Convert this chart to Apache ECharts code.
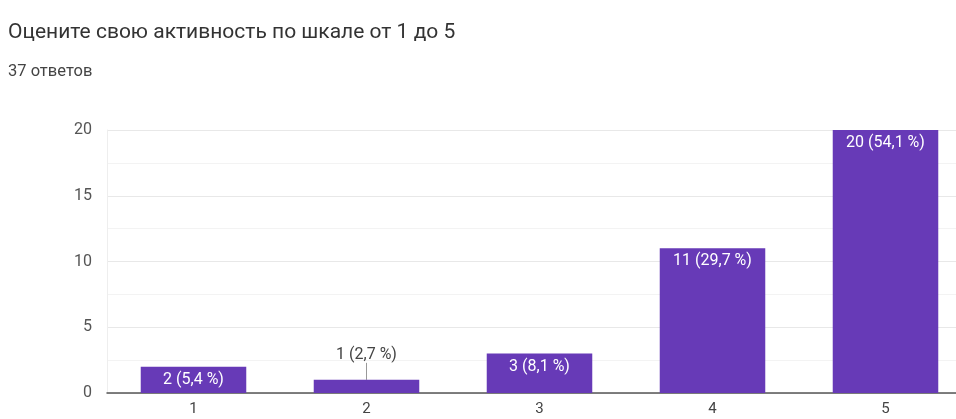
<!DOCTYPE html>
<html>
<head>
<meta charset="utf-8">
<script src="https://cdn.jsdelivr.net/npm/echarts@6/dist/echarts.min.js"></script>
<style>
  html, body { margin: 0; padding: 0; background: #fff; }
  #chart { width: 956px; height: 419px; }
</style>
</head>
<body>
<div id="chart"></div>
<script>
// Survey answers: self-rated activity on a 1..5 scale
const categories = ['1', '2', '3', '4', '5'];
const counts = [2, 1, 3, 11, 20];
const yTicks = [0, 5, 10, 15, 20];

const titleText = 'Оцените свою активность по шкале от 1 до 5';
const total = counts.reduce((a, b) => a + b, 0);
const subtitleText = total + ' ответов';

function pctLabel(v) {
  const p = (v / total * 100).toFixed(1).replace('.', ',');
  return v + ' (' + p + ' %)';
}

// Bars too short to hold their label get it above, with a leader line
const outsideIdx = counts.map((v, i) => v < 2 ? i : -1).filter(i => i >= 0);

const chart = echarts.init(document.getElementById('chart'));
chart.setOption({
  animation: false,
  textStyle: { fontFamily: 'Roboto' },
  title: {
    text: titleText,
    subtext: subtitleText,
    left: 3,
    top: 17,
    itemGap: 20,
    textStyle: { fontFamily: 'Roboto', fontSize: 21, fontWeight: 'normal', color: '#333' },
    subtextStyle: { fontFamily: 'Roboto', fontSize: 16.5, color: '#444' }
  },
  // the plot runs past the right edge of the canvas
  grid: { left: 107, width: 865, top: 130, bottom: 26, outerBoundsMode: 'none', containLabel: false },
  xAxis: {
    type: 'category',
    data: categories,
    axisLine: { show: true, lineStyle: { color: '#555', width: 1.5 } },
    axisTick: { show: false },
    axisLabel: { color: '#444', fontSize: 15, margin: 9 }
  },
  yAxis: {
    type: 'value',
    min: yTicks[0],
    max: yTicks[yTicks.length - 1],
    interval: 5,
    axisLine: { show: true, lineStyle: { color: '#eeeeee' } },
    axisTick: { show: false },
    axisLabel: { color: '#555', fontSize: 16, margin: 15 },
    splitLine: { lineStyle: { color: '#e8e8e8' } },
    minorTick: { show: false, splitNumber: 2 },
    minorSplitLine: { show: true, lineStyle: { color: '#f3f3f3' } }
  },
  series: [{
    type: 'bar',
    barWidth: '61%',
    itemStyle: { color: '#673ab7' },
    data: counts.map((v, i) => {
      if (outsideIdx.includes(i)) {
        return {
          value: v,
          label: { position: 'top', color: '#444', distance: 17 }
        };
      }
      return v;
    }),
    label: {
      show: true,
      position: 'insideTop',
      distance: 5,
      color: '#fff',
      fontSize: 16,
      formatter: p => pctLabel(p.value)
    }
  }]
});

// Leader lines from the raised labels down to their bars
const graphics = outsideIdx.map(i => {
  const top = chart.convertToPixel({ seriesIndex: 0 }, [i, counts[i]]);
  return {
    type: 'line',
    shape: { x1: top[0], y1: top[1], x2: top[0], y2: top[1] - 17 },
    style: { stroke: '#999', lineWidth: 1 },
    silent: true
  };
});
chart.setOption({ graphic: graphics });
</script>
</body>
</html>
